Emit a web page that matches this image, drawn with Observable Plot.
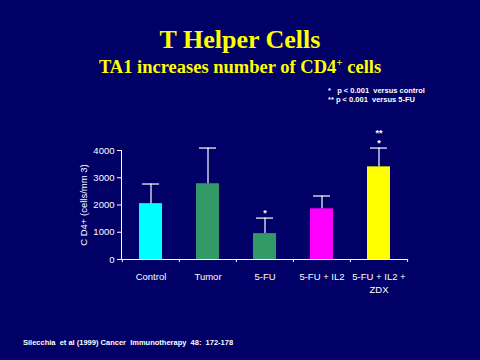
<!DOCTYPE html>
<html><head><meta charset="utf-8">
<script src="https://cdn.jsdelivr.net/npm/d3@7"></script>
<script src="https://cdn.jsdelivr.net/npm/@observablehq/plot@0.6"></script>
<style>
html,body{margin:0;padding:0;background:#000066;}
#wrap{position:relative;width:480px;height:360px;overflow:hidden;background:#000066;}
#wrap svg{position:absolute;left:0;top:0;}
.t{position:absolute;left:0;width:480px;text-align:center;color:#ffff00;font-family:"Liberation Serif","Times New Roman",serif;font-weight:bold;line-height:1;white-space:nowrap;}
.s{position:absolute;color:#ffffff;font-family:"Liberation Sans",Arial,sans-serif;font-weight:bold;white-space:pre;line-height:1;}
</style></head>
<body><div id="wrap"></div>
<script>
const categories = ["Control", "Tumor", "5-FU", "5-FU + IL2", "5-FU + IL2 +\nZDX"];
const means = [2050, 2780, 950, 1860, 3400];
const upper = [2770, 4090, 1520, 2330, 4090];
const colors = ["#00ffff", "#339966", "#339966", "#ff00ff", "#ffff00"];
const star1 = ["", "", "*", "", "*"];
const star2 = ["", "", "", "", "**"];
const yTicks = [0, 1000, 2000, 3000, 4000];

const data = categories.map((c, i) => ({cat: c, mean: means[i], upper: upper[i], color: colors[i], s1: star1[i], s2: star2[i]}));

const W = 480, H = 360, mL = 121, mR = 73, mT = 150, mB = 101;
const bw = (W - mL - mR) / categories.length;

const chart = Plot.plot({
  width: W, height: H,
  marginLeft: mL, marginRight: mR, marginTop: mT, marginBottom: mB,
  style: {background: "transparent", color: "#ffffff", fontFamily: "'Liberation Sans', Arial, sans-serif", fontSize: "9.5px"},
  x: {domain: categories, padding: 0, label: null},
  y: {domain: [0, 4000], label: null},
  marks: [
    Plot.barY(data, {x: "cat", y: "mean", fill: "color", insetLeft: 17, insetRight: 17}),
    Plot.ruleX(data, {x: "cat", y1: "mean", y2: "upper", stroke: "#ffffff", strokeWidth: 1.2}),
    Plot.tickY(data, {x: "cat", y: "upper", stroke: "#ffffff", strokeWidth: 1.2, insetLeft: 20, insetRight: 20}),
    Plot.text(data, {x: "cat", y: "upper", text: "s1", dy: -5, fill: "#ffffff", fontSize: 9, fontWeight: "bold"}),
    Plot.text(data, {x: "cat", y: "upper", text: "s2", dy: -15, fill: "#ffffff", fontSize: 9, fontWeight: "bold"}),
    Plot.frame({anchor: "left", stroke: "#ffffff"}),
    Plot.frame({anchor: "bottom", stroke: "#ffffff"}),
    Plot.axisY({ticks: yTicks, tickFormat: d3.format("d"), tickSize: 4, tickPadding: 3, stroke: "#ffffff", fill: "#ffffff", label: null}),
    Plot.axisX({tickSize: 0, tickPadding: 11, lineHeight: 1.4, fill: "#ffffff", label: null}),
    Plot.axisX({text: null, tickSize: 3, stroke: "#ffffff", dx: -bw / 2, label: null}),
    Plot.axisX({ticks: [categories[categories.length - 1]], text: null, tickSize: 3, stroke: "#ffffff", dx: bw / 2, label: null}),
    Plot.text(["C D4+ (cells/mm 3)"], {frameAnchor: "left", text: d => d, rotate: -90, dx: -38, fill: "#ffffff", fontSize: 9.5, textAnchor: "middle", lineAnchor: "middle"})
  ]
});
const wrap = document.getElementById("wrap");
wrap.appendChild(chart);

function addDiv(cls, html, css) {
  const d = document.createElement("div");
  d.className = cls;
  d.innerHTML = html;
  Object.assign(d.style, css);
  wrap.appendChild(d);
}
addDiv("t", "T Helper Cells", {top: "27px", fontSize: "26px"});
addDiv("t", 'TA1 increases number of CD4<span style="font-size:11px;position:relative;top:-7px">+</span> cells', {top: "58px", fontSize: "18.5px"});
addDiv("s", "*   p &lt; 0.001  versus control\n** p &lt; 0.001  versus 5-FU", {left: "328px", top: "87px", fontSize: "7.5px", lineHeight: "8.5px"});
addDiv("s", "Silecchia  et al (1999) Cancer  Immunotherapy  48:  172-178", {left: "23px", top: "339px", fontSize: "7.5px"});
</script>
</body></html>
